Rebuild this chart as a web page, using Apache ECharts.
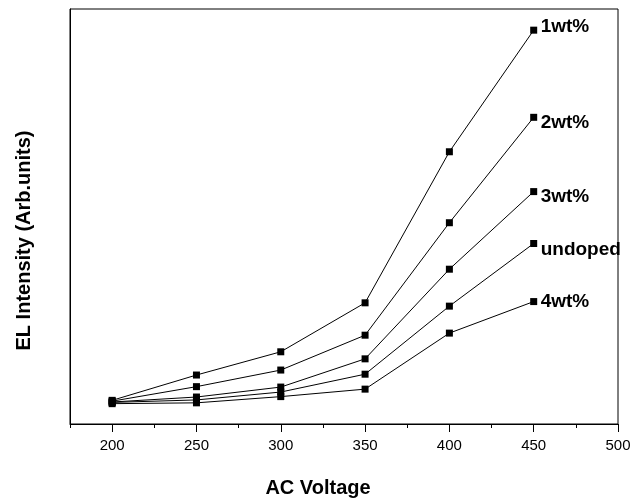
<!DOCTYPE html>
<html>
<head>
<meta charset="utf-8">
<script src="https://cdn.jsdelivr.net/npm/echarts@6/dist/echarts.min.js"></script>
<style>
  html, body { margin: 0; padding: 0; background: #fff; }
  #chart { width: 634px; height: 503px; }
</style>
</head>
<body>
<div id="chart"></div>
<script>
// AC voltage steps (V)
const voltages = [200, 250, 300, 350, 400, 450];
// EL intensity, arbitrary units
const s1wt = [5.7, 11.8, 17.4, 29.2, 65.6, 94.9];
const s2wt = [5.5, 9.0, 13.0, 21.4, 48.5, 73.9];
const s3wt = [5.3, 6.5, 8.9, 15.7, 37.3, 56.0];
const sUndoped = [5.2, 5.8, 7.7, 12.0, 28.4, 43.5];
const s4wt = [4.9, 5.1, 6.6, 8.4, 21.9, 29.5];
const seriesNames = ['1wt%', '2wt%', '3wt%', 'undoped', '4wt%'];
const majorTicks = [200, 250, 300, 350, 400, 450, 500];
const minorTicks = [175, 225, 275, 325, 375, 425, 475];

const allSeries = [s1wt, s2wt, s3wt, sUndoped, s4wt];
const labelOffsets = [[3, -3], [3, 5], [3, 5], [3, 6], [3, 0]];
const font = '"Liberation Sans", Arial, Helvetica, sans-serif';

const chart = echarts.init(document.getElementById('chart'));
chart.setOption({
  animation: false,
  backgroundColor: '#fff',
  grid: {
    left: 70, right: 16, top: 9, bottom: 79,
    outerBoundsMode: 'none', containLabel: false,
    show: true, borderColor: '#000', borderWidth: 1, backgroundColor: 'transparent'
  },
  xAxis: [{
    type: 'value', min: 175, max: 500,
    name: 'AC Voltage', nameLocation: 'middle', nameGap: 54,
    nameTextStyle: { fontFamily: font, fontWeight: 'bold', fontSize: 20, color: '#000', padding: [0, 52, 0, 0] },
    axisLine: { show: true, lineStyle: { color: '#000', width: 1 } },
    axisTick: { show: true, length: 8, customValues: majorTicks, lineStyle: { color: '#000', width: 1 } },
    axisLabel: { customValues: majorTicks, fontFamily: font, fontSize: 15, color: '#000', margin: 14 },
    splitLine: { show: false }
  }, {
    type: 'value', min: 175, max: 500, position: 'bottom',
    axisLine: { show: false },
    axisTick: { show: true, length: 4, customValues: minorTicks, lineStyle: { color: '#000', width: 1 } },
    axisLabel: { show: false },
    splitLine: { show: false }
  }],
  yAxis: {
    type: 'value', min: 0, max: 100,
    name: 'EL Intensity (Arb.units)', nameLocation: 'middle', nameGap: 36,
    nameTextStyle: { fontFamily: font, fontWeight: 'bold', fontSize: 20, color: '#000', padding: [0, 48, 0, 0] },
    axisLine: { show: true, lineStyle: { color: '#000', width: 1 } },
    axisTick: { show: false },
    axisLabel: { show: false },
    splitLine: { show: false }
  },
  series: allSeries.map((vals, i) => ({
    name: seriesNames[i],
    type: 'line',
    data: voltages.map((v, j) => [v, vals[j]]),
    symbol: 'rect',
    symbolSize: 7,
    itemStyle: { color: '#000' },
    lineStyle: { color: '#000', width: 1 },
    endLabel: {
      show: true,
      formatter: seriesNames[i],
      fontFamily: font, fontWeight: 'bold', fontSize: 19, color: '#000',
      distance: 4,
      offset: labelOffsets[i]
    },
    z: 3
  }))
});
</script>
</body>
</html>
